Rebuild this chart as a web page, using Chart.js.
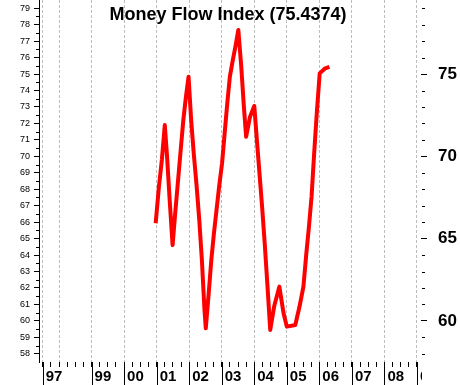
<!DOCTYPE html>
<html>
<head>
<meta charset="utf-8">
<script src="https://cdn.jsdelivr.net/npm/chart.js@4.4.1/dist/chart.umd.min.js"></script>
<style>
  body { margin: 0; background: #fff; }
  canvas { display: block; }
</style>
</head>
<body>
<canvas id="mfi" width="460" height="385"></canvas>
<script>
const title = 'Money Flow Index (75.4374)'

// fractional years
const dates = [2000.97, 2001.07, 2001.16, 2001.25, 2001.32, 2001.40, 2001.49, 2001.57, 2001.65, 2001.73,
    2001.82, 2001.90, 2001.98, 2002.06, 2002.14, 2002.23, 2002.31, 2002.39, 2002.47, 2002.51,
    2002.60, 2002.68, 2002.76, 2002.84, 2002.92, 2003.01, 2003.09, 2003.17, 2003.25, 2003.34,
    2003.42, 2003.51, 2003.60, 2003.68, 2003.75, 2003.87, 2004.00, 2004.08, 2004.16, 2004.24,
    2004.32, 2004.40, 2004.49, 2004.61, 2004.77, 2004.90, 2005.00, 2005.26, 2005.39, 2005.51,
    2005.60, 2005.68, 2005.76, 2005.84, 2005.92, 2006.01, 2006.18, 2006.31]
const mfi = [65.93, 68.16, 69.78, 71.90, 69.98, 67.35, 64.61, 66.54, 68.36, 70.18,
    72.21, 73.62, 74.84, 72.21, 70.18, 68.16, 66.13, 63.70, 60.66, 59.55,
    61.68, 63.70, 65.32, 66.74, 68.16, 69.58, 71.40, 73.22, 74.84, 75.85,
    76.66, 77.68, 75.45, 73.02, 71.19, 72.41, 73.06, 70.99, 68.97, 66.94,
    64.72, 62.29, 59.45, 60.87, 62.08, 60.46, 59.65, 59.75, 60.87, 62.08,
    64.11, 65.73, 67.55, 70.18, 72.61, 75.04, 75.35, 75.44]

const yearTicks = [1997.5, 1998, 1999, 2000, 2001, 2002, 2003, 2004, 2005, 2006, 2007, 2008, 2009]
const yearLabels = ['97', '', '99', '00', '01', '02', '03', '04', '05', '06', '07', '08', '09']
const leftTicks = [58, 59, 60, 61, 62, 63, 64, 65, 66, 67, 68, 69, 70, 71, 72, 73, 74, 75, 76, 77, 78, 79]
const rightLabels = [60, 65, 70, 75]

// quarter marks between the year lines
const quarterTicks = []
yearTicks.forEach(t => {
    for (let q = 0; q < 4; q++) {
        const v = t + q * 0.25
        if (v <= 2009 && (q === 0 || t + 0.25 * q < Math.floor(t) + 1)) quarterTicks.push(v)
    }
})

const font = '"Liberation Sans", Arial, sans-serif'
const clear = 'rgba(0,0,0,0)'

// fixed box sizes, no label overhang padding
function fixBox(w, h) {
    return s => {
        if (w !== null) s.width = w
        if (h !== null) s.height = h
        s.paddingTop = 0
        s.paddingBottom = 0
        s.paddingLeft = 0
        s.paddingRight = 0
    }
}

const furniture = {
    id: 'furniture',
    afterDraw(chart) {
        const ctx = chart.ctx
        const area = chart.chartArea
        const xs = chart.scales.x, yl = chart.scales.y, yr = chart.scales.y2
        ctx.save()
        ctx.strokeStyle = '#000'
        ctx.lineWidth = 1
        ctx.beginPath()
        // half-unit ticks, left
        leftTicks.forEach(v => {
            if (v === 79) return
            const py = Math.round(yl.getPixelForValue(v + 0.5)) + 0.5
            ctx.moveTo(area.left - 3, py)
            ctx.lineTo(area.left, py)
        })
        // short unit ticks, right
        leftTicks.forEach(v => {
            if (rightLabels.includes(v)) return
            const py = Math.round(yr.getPixelForValue(v)) + 0.5
            ctx.moveTo(area.right + 1, py)
            ctx.lineTo(area.right + 4, py)
        })
        // long bars before each year label
        yearTicks.forEach((t, i) => {
            if (!yearLabels[i]) return
            const px = Math.round(xs.getPixelForValue(t)) + 0.5
            ctx.moveTo(px, area.bottom)
            ctx.lineTo(px, chart.height)
        })
        ctx.stroke()
        // right panel hides the last year label
        ctx.fillStyle = '#fff'
        ctx.fillRect(area.right + 1, area.bottom + 1, chart.width, chart.height)

        ctx.fillStyle = '#000'
        ctx.font = 'bold 18px ' + font
        ctx.textAlign = 'center'
        ctx.textBaseline = 'alphabetic'
        ctx.fillText(title, 228, 20)
        ctx.restore()
    }
}

const config = {
    type: 'line',
    data: {
        datasets: [{
            data: dates.map((t, i) => ({ x: t, y: mfi[i] })),
            borderColor: '#ff0000',
            borderWidth: 4,
            borderJoinStyle: 'round',
            pointRadius: 0,
            tension: 0,
            fill: false,
            yAxisID: 'y'
        }]
    },
    options: {
        responsive: false,
        animation: false,
        events: [],
        layout: { padding: 0, autoPadding: false },
        plugins: { legend: { display: false }, tooltip: { enabled: false } },
        scales: {
            x: {
                type: 'linear',
                position: 'bottom',
                min: 1997.385,
                max: 2009.123,
                afterFit: fixBox(null, 23),
                afterBuildTicks(s) { s.ticks = quarterTicks.map(v => ({ value: v })) },
                border: { display: false, dash: [3, 2] },
                grid: {
                    color: c => yearTicks.includes(c.tick.value) ? '#bdbdbd' : clear,
                    tickColor: '#000',
                    tickLength: 5
                },
                ticks: {
                    autoSkip: false,
                    maxRotation: 0,
                    minRotation: 0,
                    align: 'start',
                    labelOffset: 3,
                    padding: 1,
                    color: '#000',
                    font: { family: font, size: 15, weight: 'bold' },
                    callback: v => {
                        const i = yearTicks.indexOf(v)
                        return i < 0 ? '' : yearLabels[i]
                    }
                }
            },
            y: {
                position: 'left',
                min: 57.5,
                max: 79.5,
                afterFit: fixBox(39, null),
                afterBuildTicks(s) { s.ticks = leftTicks.map(v => ({ value: v })) },
                border: { display: true, color: '#000', width: 1 },
                grid: { drawOnChartArea: false, tickColor: '#000', tickLength: 5 },
                ticks: {
                    autoSkip: false,
                    padding: 4,
                    color: '#000',
                    font: { family: font, size: 9 }
                }
            },
            y2: {
                position: 'right',
                min: 57.5,
                max: 79.5,
                afterFit: fixBox(39, null),
                afterBuildTicks(s) { s.ticks = leftTicks.map(v => ({ value: v })) },
                border: { display: false },
                grid: {
                    drawOnChartArea: false,
                    tickColor: c => rightLabels.includes(c.tick.value) ? '#000' : clear,
                    tickLength: 6
                },
                ticks: {
                    autoSkip: false,
                    padding: 11,
                    color: '#000',
                    font: { family: font, size: 17, weight: 'bold' },
                    callback: v => rightLabels.includes(v) ? String(v) : ''
                }
            }
        }
    },
    plugins: [furniture]
}

new Chart(document.getElementById('mfi'), config)
</script>
</body>
</html>
